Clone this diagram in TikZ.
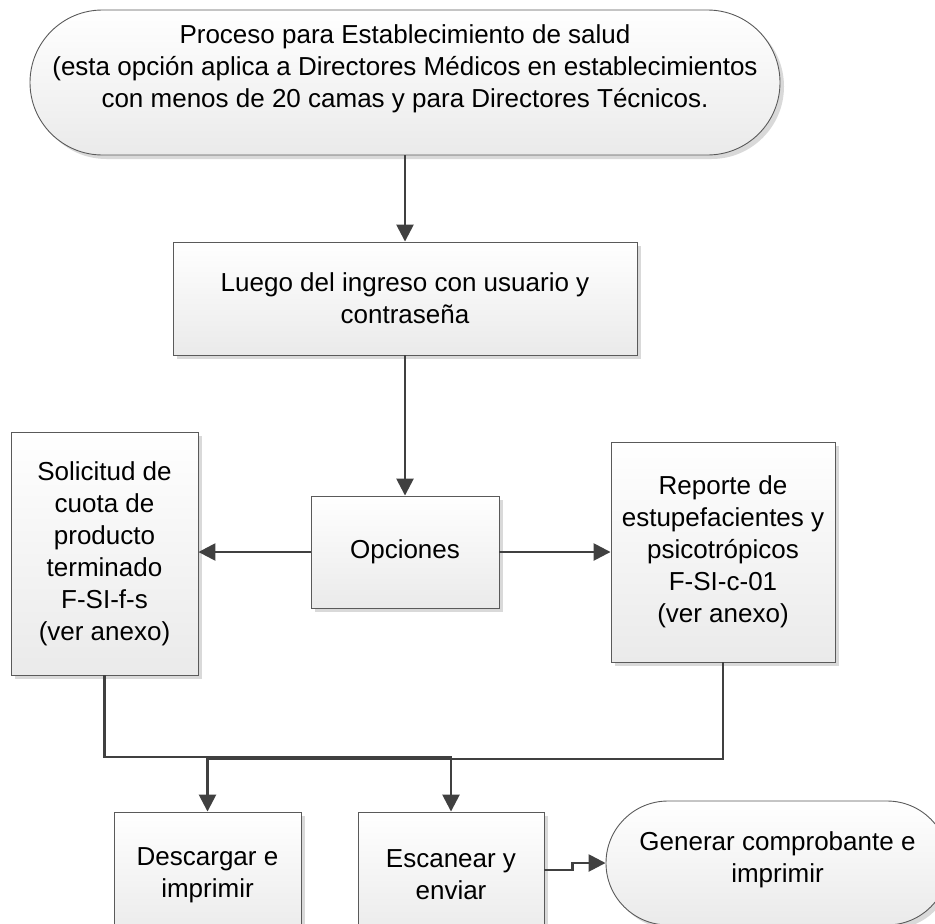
\documentclass[tikz,border=0pt]{standalone}
\usepackage{fontspec}
\setmainfont{Liberation Sans}
\usetikzlibrary{arrows.meta,shadows}

\definecolor{edgegray}{HTML}{5A5A5A}
\definecolor{fillbot}{HTML}{EAEAEA}
\definecolor{shadegray}{HTML}{D9D9D9}
\definecolor{linkgray}{HTML}{404040}

\tikzset{
  boxbase/.style={draw=edgegray, line width=0.9pt, top color=white, bottom color=fillbot,
    drop shadow={shadow xshift=4pt, shadow yshift=-4pt, fill=shadegray, opacity=1},
    align=center, inner sep=0pt, text=black,
    font=\fontsize{26}{32}\selectfont},
  procbox/.style={boxbase, rectangle},
  termbox/.style={boxbase, rectangle},
  conn/.style={draw=linkgray, line width=2.6pt,
    -{Triangle[length=17pt,width=17pt]}}
}

\begin{document}
\begin{tikzpicture}[x=1pt,y=-1pt]
  \clip (0,0) rectangle (935,924);

  % start terminator
  \node[termbox, minimum width=750pt, minimum height=145pt, rounded corners=72.5pt]
    (top) at (405,82.5)
    {Proceso para Establecimiento de salud\\
     (esta opción aplica a Directores Médicos en establecimientos\\
     con menos de 20 camas y para Directores Técnicos.\\ \mbox{}};

  % process steps
  \node[procbox, minimum width=464pt, minimum height=113pt] (luego) at (405,298.5)
    {Luego del ingreso con usuario y\\ contraseña};
  \node[procbox, minimum width=188pt, minimum height=112pt] (opc) at (405,552)
    {Opciones};
  \node[procbox, minimum width=187pt, minimum height=243pt] (sol) at (104.5,553.5)
    {Solicitud de\\ cuota de\\ producto\\ terminado\\ F-SI-f-s\\ (ver anexo)};
  \node[procbox, minimum width=224pt, minimum height=220pt] (rep) at (723,552)
    {Reporte de\\ estupefacientes y\\ psicotrópicos\\ F-SI-c-01\\ (ver anexo)};
  \node[procbox, minimum width=187pt, minimum height=126pt] (desc) at (207.5,875)
    {Descargar e\\ imprimir};
  \node[procbox, minimum width=186pt, minimum height=126pt] (esc) at (451,875)
    {Escanear y\\ enviar};

  % end terminator (text sits a little above the middle)
  \node[termbox, minimum width=343pt, minimum height=124pt, rounded corners=62pt]
    (gen) at (777.5,863)
    {Generar comprobante e\\ imprimir\\[-20pt] \mbox{}};

  % connectors
  \draw[conn] (top.south) -- (luego.north);
  \draw[conn] (luego.south) -- (opc.north);
  \draw[conn] (opc.west) -- (opc.west -| sol.east);
  \draw[conn] (opc.east) -- (opc.east -| rep.west);
  \draw[conn] (sol.south) -- (sol.south |- 0,757) -| (esc.north);
  \draw[conn] (rep.south) -- (rep.south |- 0,759) -| (desc.north);
  \draw[conn] ([yshift=5pt]esc.east) -- ++(28,0) |- (gen.west);
\end{tikzpicture}
\end{document}
